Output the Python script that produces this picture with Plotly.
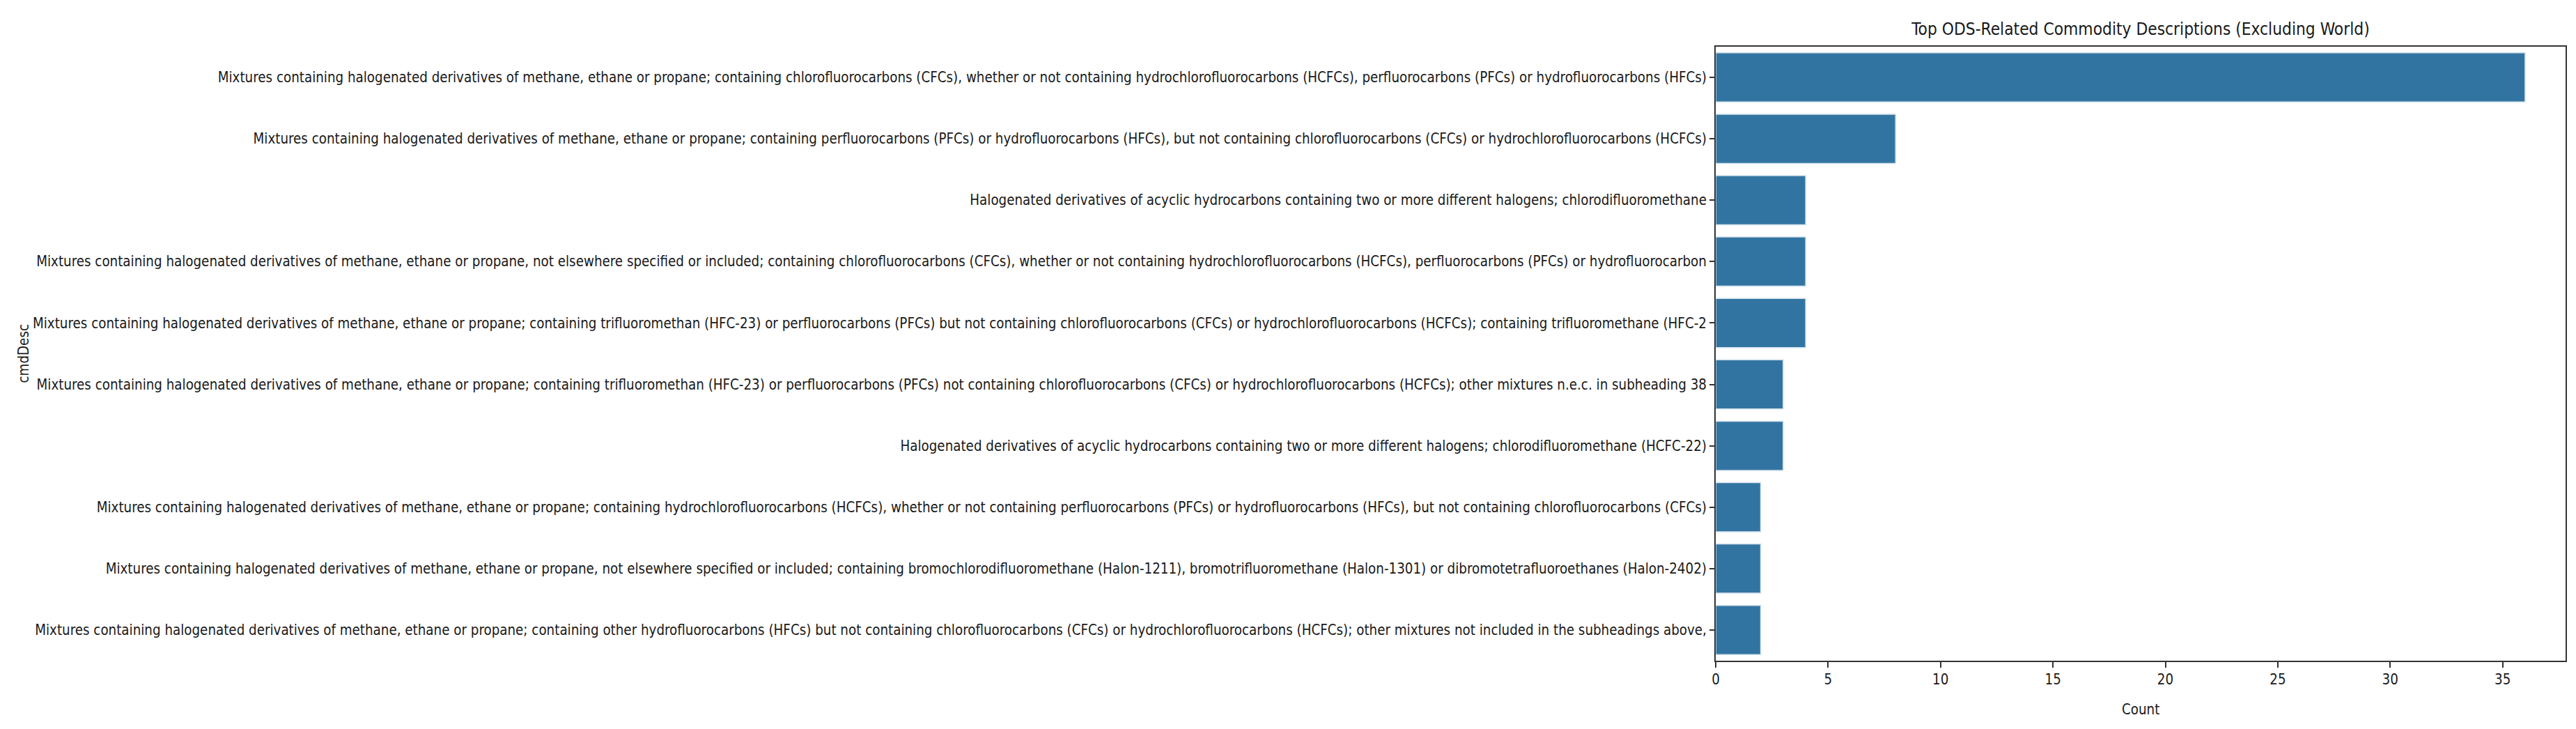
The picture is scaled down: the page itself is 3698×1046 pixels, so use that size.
import plotly.graph_objects as go

# commodity descriptions, top to bottom as in the chart
descriptions = [
    "Mixtures containing halogenated derivatives of methane, ethane or propane; containing chlorofluorocarbons (CFCs), whether or not containing hydrochlorofluorocarbons (HCFCs), perfluorocarbons (PFCs) or hydrofluorocarbons (HFCs)",
    "Mixtures containing halogenated derivatives of methane, ethane or propane; containing perfluorocarbons (PFCs) or hydrofluorocarbons (HFCs), but not containing chlorofluorocarbons (CFCs) or hydrochlorofluorocarbons (HCFCs)",
    "Halogenated derivatives of acyclic hydrocarbons containing two or more different halogens; chlorodifluoromethane",
    "Mixtures containing halogenated derivatives of methane, ethane or propane, not elsewhere specified or included; containing chlorofluorocarbons (CFCs), whether or not containing hydrochlorofluorocarbons (HCFCs), perfluorocarbons (PFCs) or hydrofluorocarbon",
    "Mixtures containing halogenated derivatives of methane, ethane or propane; containing trifluoromethan (HFC-23) or perfluorocarbons (PFCs) but not containing chlorofluorocarbons (CFCs) or hydrochlorofluorocarbons (HCFCs); containing trifluoromethane (HFC-2",
    "Mixtures containing halogenated derivatives of methane, ethane or propane; containing trifluoromethan (HFC-23) or perfluorocarbons (PFCs) not containing chlorofluorocarbons (CFCs) or hydrochlorofluorocarbons (HCFCs); other mixtures n.e.c. in subheading 38",
    "Halogenated derivatives of acyclic hydrocarbons containing two or more different halogens; chlorodifluoromethane (HCFC-22)",
    "Mixtures containing halogenated derivatives of methane, ethane or propane; containing hydrochlorofluorocarbons (HCFCs), whether or not containing perfluorocarbons (PFCs) or hydrofluorocarbons (HFCs), but not containing chlorofluorocarbons (CFCs)",
    "Mixtures containing halogenated derivatives of methane, ethane or propane, not elsewhere specified or included; containing bromochlorodifluoromethane (Halon-1211), bromotrifluoromethane (Halon-1301) or dibromotetrafluoroethanes (Halon-2402)",
    "Mixtures containing halogenated derivatives of methane, ethane or propane; containing other hydrofluorocarbons (HFCs) but not containing chlorofluorocarbons (CFCs) or hydrochlorofluorocarbons (HCFCs); other mixtures not included in the subheadings above,",
]
counts = [36, 8, 4, 4, 4, 3, 3, 2, 2, 2]
x_ticks = [0, 5, 10, 15, 20, 25, 30, 35]

FONT = "DejaVu Sans Condensed, Liberation Sans Narrow, DejaVu Sans, sans-serif"
TEXT = "#1a1a1a"
SIZE = 20.35

fig = go.Figure(
    go.Bar(
        x=counts,
        y=descriptions,
        orientation="h",
        width=0.8,
        marker=dict(color="#3274a1", line=dict(color="#cfe0ec", width=1.5)),
    )
)

fig.update_layout(
    width=3698,
    height=1046,
    margin=dict(l=2455, r=23, t=59, b=106),
    paper_bgcolor="white",
    plot_bgcolor="white",
    font=dict(family=FONT, size=SIZE, color=TEXT),
    showlegend=False,
    title=dict(
        text="Top ODS-Related Commodity Descriptions (Excluding World)",
        x=0.5,
        xref="paper",
        xanchor="center",
        y=1 - 33 / 1046,
        yref="container",
        yanchor="middle",
        font=dict(family=FONT, size=24.3, color=TEXT),
    ),
)

fig.update_xaxes(
    range=[0, 37.8],
    tickvals=x_ticks,
    ticks="outside",
    ticklen=8,
    tickwidth=2,
    tickcolor="#333333",
    showline=True,
    linecolor="#333333",
    linewidth=2,
    mirror=True,
    showgrid=False,
    zeroline=False,
    tickfont=dict(size=SIZE),
)
fig.update_yaxes(
    categoryorder="array",
    categoryarray=descriptions,
    autorange="reversed",
    ticks="outside",
    ticklen=7,
    tickwidth=2,
    tickcolor="#333333",
    showline=True,
    linecolor="#333333",
    linewidth=2,
    mirror=True,
    showgrid=False,
    tickfont=dict(size=SIZE),
)

fig.add_annotation(
    text="Count",
    xref="paper",
    yref="paper",
    x=0.5,
    y=0,
    xanchor="center",
    yanchor="middle",
    yshift=-70,
    showarrow=False,
    font=dict(size=SIZE),
)
fig.add_annotation(
    text="cmdDesc",
    xref="paper",
    yref="paper",
    x=(25 - 2455) / 1220,
    y=0.5,
    xanchor="center",
    yanchor="middle",
    textangle=-90,
    showarrow=False,
    font=dict(size=SIZE),
)

fig.write_html("out.html")
